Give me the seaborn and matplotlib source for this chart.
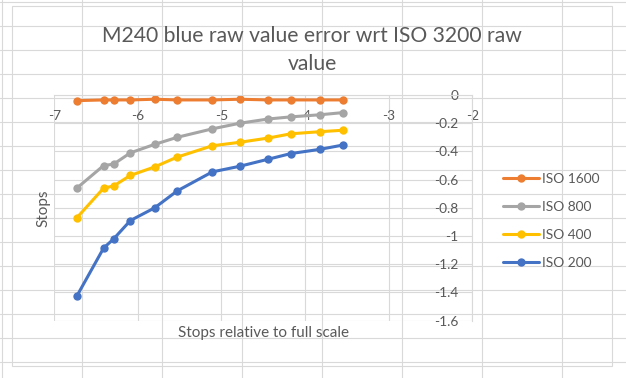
import numpy as np
import pandas as pd
import matplotlib
matplotlib.use('Agg')
import matplotlib.pyplot as plt
import seaborn as sb

#values
stops_rel = [-6.73, -6.41, -6.29, -6.09, -5.80, -5.53, -5.11, -4.78, -4.44, -4.17, -3.82, -3.55]
iso1600 = [-0.04, -0.035, -0.035, -0.035, -0.03, -0.035, -0.035, -0.03, -0.035, -0.035, -0.035, -0.035]
iso800 = [-0.66, -0.50, -0.49, -0.41, -0.35, -0.30, -0.24, -0.20, -0.17, -0.155, -0.14, -0.125]
iso400 = [-0.87, -0.66, -0.645, -0.57, -0.51, -0.44, -0.36, -0.335, -0.305, -0.275, -0.26, -0.25]
iso200 = [-1.425, -1.085, -1.02, -0.89, -0.80, -0.68, -0.545, -0.505, -0.455, -0.415, -0.385, -0.355]

series_names = ['ISO 1600', 'ISO 800', 'ISO 400', 'ISO 200']
series_colors = ['#ED7D31', '#A5A5A5', '#FFC000', '#4472C4']

x_ticks = [-7, -6, -5, -4, -3, -2]
y_ticks = [0, -0.2, -0.4, -0.6, -0.8, -1, -1.2, -1.4, -1.6]
y_tick_labels = ['0', '-0.2', '-0.4', '-0.6', '-0.8', '-1', '-1.2', '-1.4', '-1.6']

#long form table for seaborn
frames = []
for name, vals in zip(series_names, [iso1600, iso800, iso400, iso200]):
    frames.append(pd.DataFrame({'x': stops_rel, 'stops': vals, 'series': name}))
df = pd.concat(frames, ignore_index=True)

sb.set_style('white')
plt.rcParams['font.family'] = ['Lato', 'DejaVu Sans']
plt.rcParams['axes.unicode_minus'] = False

text_col = '#595959'
grid_col = '#D9D9D9'
W, H = 626, 378

fig = plt.figure(figsize=(W / 100, H / 100), dpi=100)

#spreadsheet cells behind the chart
bg = fig.add_axes([0, 0, 1, 1])
bg.set_xlim(0, W)
bg.set_ylim(H, 0)
bg.axis('off')
for cx in range(2, W, 80):
    bg.axvline(cx, color=grid_col, lw=0.8)
for cy in range(2, H, 24):
    bg.axhline(cy, color=grid_col, lw=0.8)
bg.add_patch(plt.Rectangle((11.5, 5.5), 600, 360, facecolor='white', edgecolor=grid_col, lw=0.8))

#plot area
ax = fig.add_axes([54.3 / W, 1 - 320.7 / H, 418 / W, 225.7 / H])
ax.patch.set_alpha(0)
sb.lineplot(data=df, x='x', y='stops', hue='series', hue_order=series_names,
            palette=series_colors, marker='o', markersize=6, markeredgewidth=0,
            linewidth=2.2, ax=ax, legend=False)

ax.set_xlim(-7, -2)
ax.set_ylim(-1.6, 0)
ax.set_xticks(x_ticks)
ax.set_xticklabels([str(t) for t in x_ticks])
ax.set_yticks(y_ticks)
ax.set_yticklabels(y_tick_labels)
ax.grid(True, color=grid_col, lw=0.8)
ax.set_axisbelow(True)

#excel style axes crossing: x axis at 0, y axis at -2
ax.spines['bottom'].set_position(('data', 0))
ax.spines['left'].set_position(('data', -2))
ax.spines['top'].set_visible(False)
ax.spines['right'].set_visible(False)
for s in ['bottom', 'left']:
    ax.spines[s].set_color(grid_col)
    ax.spines[s].set_linewidth(0.8)
ax.tick_params(axis='both', length=0, labelsize=9.9, labelcolor=text_col)
ax.tick_params(axis='x', pad=11)
ax.tick_params(axis='y', pad=10)

ax.set_xlabel('Stops relative to full scale', fontsize=11, color=text_col)
ax.set_ylabel('Stops', fontsize=11, color=text_col)
ax.xaxis.set_label_coords(0.5, -0.025)
ax.yaxis.set_label_coords(-0.01, 0.5)

fig.text(312 / W, 1 - 50 / H, 'M240 blue raw value error wrt ISO 3200 raw\nvalue',
         ha='center', va='center', fontsize=15.2, color=text_col, linespacing=1.45)

handles = ax.get_lines()[:4]
fig.legend(handles, series_names, loc='center left', bbox_to_anchor=(503 / W, 1 - 221 / H),
           frameon=False, fontsize=9.9, labelcolor=text_col, borderpad=0, borderaxespad=0,
           handlelength=2.6, handletextpad=0.25, labelspacing=1.15)

fig.savefig('out.png', dpi=100)
